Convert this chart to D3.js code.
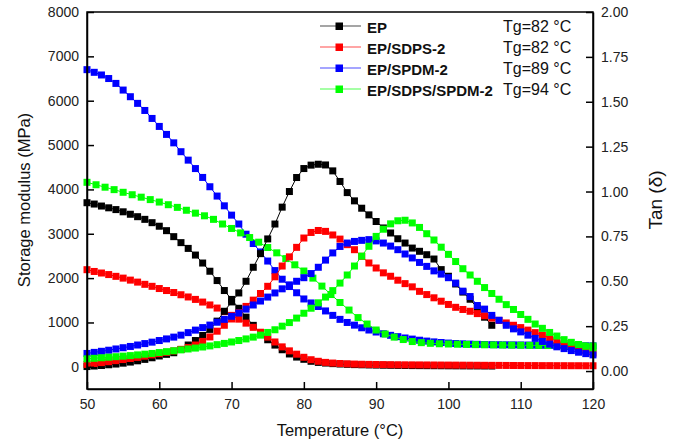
<!DOCTYPE html>
<html>
<head>
	<style>
	body {
		margin: 0;
		background: #fff;
	}
	text {
		font-family: Arial, "Liberation Sans", sans-serif;
	}
	</style>
</head>
<body>
	<script src="https://d3js.org/d3.v7.min.js"></script>
	<script>
	// measurement grid (deg C)
	var temps = [50,51,52,53,54,55,56,57,58,59,60,61,62,63,64,65,66,67,68,69,70,71,72,73,74,75,76,77,78,79,80,81,82,83,84,85,86,87,88,89,90,91,92,93,94,95,96,97,98,99,100,101,102,103,104,105,106,107,108,109,110,111,112,113,114,115,116,117,118,119,120];
	var mixStorageTemps = [50,51.25,52.5,53.75,55,56.25,57.5,58.75,60,61.25,62.5,63.75,65,66.25,67.5,68.75,70,71.25,72.5,73.75,75,76.25,77.5,78.75,80,81.25,82.5,83.75,85,86.25,87.5,88.75,90,91.25,92.5,93.75,95,96.25,97.5,98.75,100,101.25,102.5,103.75,105,106.25,107.5,108.75,110,111.25,112.5,113.75,115,116.25,117.5,118.75,120];

	// storage modulus (MPa), left axis
	var epStorage = [3700,3670,3625,3585,3545,3495,3440,3385,3325,3250,3170,3070,2935,2800,2670,2520,2340,2155,1945,1720,1520,1320,1120,935,760,610,490,385,290,220,170,125,100,85,72,63,56,50,46,42,39,36,34,32,30,28,27,26,25,24,23,22,21,20,20,19,18];
	var sdpsStorage = [2190,2150,2115,2080,2040,2000,1955,1910,1860,1815,1765,1720,1675,1625,1575,1520,1460,1395,1325,1245,1160,1075,985,890,780,670,560,450,360,285,215,160,125,100,85,75,68,62,58,55,52,50,48,46,45,44,43,42,41,40,39,38,37,36,35,34,33,32,31,30,29,28,28,27,27,26,26,25,25,24,24];
	var spdmStorage = [6700,6640,6580,6500,6390,6240,6090,5940,5780,5600,5420,5240,5050,4850,4660,4470,4270,4060,3850,3630,3420,3220,2990,2780,2590,2385,2170,1975,1810,1670,1530,1440,1360,1260,1160,1070,1000,940,880,830,785,745,710,680,650,625,600,580,562,548,535,525,518,512,507,503,500,498,496,494,492,490,488,486,484,482,480,478,476,474,472];
	var mixStorage = [4160,4105,4050,3995,3935,3880,3825,3770,3715,3655,3595,3530,3465,3405,3325,3220,3120,3020,2915,2810,2690,2570,2440,2300,2160,2000,1820,1630,1450,1280,1110,965,830,740,670,615,570,545,530,520,515,510,505,500,497,494,491,488,486,484,482,480,478,476,474,472,470];

	// tan delta, right axis
	var epTan = [0.025,0.028,0.031,0.035,0.039,0.044,0.05,0.057,0.065,0.074,0.084,0.093,0.102,0.12,0.145,0.17,0.198,0.232,0.278,0.333,0.385,0.435,0.5,0.578,0.654,0.736,0.819,0.913,1.0,1.078,1.128,1.147,1.152,1.148,1.115,1.056,0.994,0.948,0.907,0.87,0.833,0.797,0.769,0.737,0.713,0.685,0.667,0.648,0.624,0.565,0.528,0.485,0.44,0.4,0.35,0.3,0.255];
	var sdpsTan = [0.037,0.042,0.047,0.052,0.058,0.064,0.07,0.076,0.083,0.09,0.097,0.104,0.112,0.121,0.131,0.145,0.165,0.19,0.222,0.255,0.29,0.325,0.36,0.395,0.432,0.472,0.525,0.585,0.636,0.689,0.741,0.772,0.783,0.778,0.758,0.735,0.704,0.676,0.639,0.602,0.574,0.547,0.528,0.506,0.487,0.469,0.444,0.426,0.408,0.389,0.371,0.355,0.343,0.333,0.32,0.308,0.295,0.282,0.268,0.255,0.242,0.228,0.214,0.2,0.186,0.17,0.153,0.138,0.124,0.112,0.1];
	var spdmTan = [0.098,0.104,0.11,0.116,0.123,0.13,0.137,0.145,0.153,0.161,0.17,0.179,0.189,0.2,0.214,0.228,0.242,0.256,0.272,0.288,0.305,0.323,0.345,0.368,0.39,0.412,0.435,0.458,0.48,0.5,0.52,0.543,0.578,0.618,0.658,0.694,0.713,0.722,0.728,0.732,0.725,0.713,0.696,0.676,0.652,0.63,0.605,0.583,0.558,0.54,0.52,0.49,0.445,0.415,0.365,0.345,0.31,0.283,0.255,0.235,0.218,0.2,0.182,0.165,0.15,0.135,0.125,0.114,0.105,0.097,0.09];
	var mixTan = [0.068,0.071,0.074,0.077,0.08,0.083,0.086,0.09,0.094,0.098,0.103,0.108,0.113,0.118,0.123,0.128,0.134,0.14,0.147,0.154,0.162,0.17,0.179,0.189,0.2,0.215,0.23,0.25,0.27,0.295,0.322,0.35,0.38,0.412,0.448,0.49,0.535,0.585,0.64,0.695,0.75,0.79,0.82,0.837,0.84,0.825,0.8,0.765,0.73,0.69,0.65,0.61,0.57,0.535,0.5,0.465,0.432,0.4,0.37,0.343,0.315,0.288,0.262,0.238,0.215,0.195,0.175,0.16,0.148,0.138,0.13];

	var names = ["EP", "EP/SDPS-2", "EP/SPDM-2", "EP/SDPS/SPDM-2"];
	var tgLabels = ["Tg=82 \u00b0C", "Tg=82 \u00b0C", "Tg=89 \u00b0C", "Tg=94 \u00b0C"];
	var colors = ["#000000", "#ff0000", "#0000ff", "#00ff00"];

	var xTicks = [50, 60, 70, 80, 90, 100, 110, 120];
	var leftTicks = [0, 1000, 2000, 3000, 4000, 5000, 6000, 7000, 8000];
	var rightTicks = [0, 0.25, 0.5, 0.75, 1.0, 1.25, 1.5, 1.75, 2.0];

	var width = 675, height = 443;
	var margin = {top: 12, right: 82, bottom: 54, left: 87};

	var svg = d3.select("body").append("svg")
		.attr("width", width)
		.attr("height", height);

	var x = d3.scaleLinear()
		.domain([50, 120])
		.range([margin.left, width - margin.right]);

	var yL = d3.scaleLinear()
		.domain([-500, 8000])
		.range([height - margin.bottom, margin.top]);

	var yR = d3.scaleLinear()
		.domain([-0.1, 2.0])
		.range([height - margin.bottom, margin.top]);

	// series: storage first, then tan delta
	var series = [
		{vals: epStorage, t: temps, y: yL, c: 0},
		{vals: sdpsStorage, t: temps, y: yL, c: 1},
		{vals: spdmStorage, t: temps, y: yL, c: 2},
		{vals: mixStorage, t: mixStorageTemps, y: yL, c: 3},
		{vals: epTan, t: temps, y: yR, c: 0},
		{vals: sdpsTan, t: temps, y: yR, c: 1},
		{vals: spdmTan, t: temps, y: yR, c: 2},
		{vals: mixTan, t: temps, y: yR, c: 3}
	];

	var ms = 7;

	series.forEach(function(s){
		var pts = s.vals.map(function(v, i){ return [s.t[i], v]; });
		var line = d3.line()
			.x(function(d){ return x(d[0]); })
			.y(function(d){ return s.y(d[1]); });

		svg.append("path")
			.datum(pts)
			.attr("d", line)
			.attr("fill", "none")
			.attr("stroke", colors[s.c])
			.attr("stroke-width", 1);

		svg.append("g").selectAll("rect")
			.data(pts)
			.enter().append("rect")
				.attr("x", function(d){ return x(d[0]) - ms / 2; })
				.attr("y", function(d){ return s.y(d[1]) - ms / 2; })
				.attr("width", ms)
				.attr("height", ms)
				.attr("fill", colors[s.c]);
	});

	// axes, ticks inward
	var bottom = height - margin.bottom;
	svg.append("g")
		.attr("transform", "translate(0," + bottom + ")")
		.call(d3.axisBottom(x).tickValues(xTicks).tickSizeInner(-7).tickSizeOuter(0).tickPadding(10));

	svg.append("g")
		.attr("transform", "translate(" + margin.left + ",0)")
		.call(d3.axisLeft(yL).tickValues(leftTicks).tickFormat(d3.format("d")).tickSizeInner(-7).tickSizeOuter(0).tickPadding(8));

	svg.append("g")
		.attr("transform", "translate(" + (width - margin.right) + ",0)")
		.call(d3.axisRight(yR).tickValues(rightTicks).tickFormat(d3.format(".2f")).tickSizeInner(-7).tickSizeOuter(0).tickPadding(8));

	svg.selectAll(".tick text")
		.attr("font-size", 14)
		.attr("fill", "#222");
	svg.selectAll(".tick line, .domain")
		.attr("stroke", "#000")
		.attr("stroke-width", 1.5);

	// frame
	svg.append("rect")
		.attr("x", margin.left)
		.attr("y", margin.top)
		.attr("width", width - margin.left - margin.right)
		.attr("height", height - margin.top - margin.bottom)
		.attr("fill", "none")
		.attr("stroke", "#000")
		.attr("stroke-width", 1.5);

	// axis titles
	svg.append("text")
		.attr("x", (margin.left + width - margin.right) / 2)
		.attr("y", 436)
		.attr("text-anchor", "middle")
		.attr("font-size", 16.5)
		.attr("fill", "#111")
		.text("Temperature (\u00b0C)");

	svg.append("text")
		.attr("transform", "translate(30,200) rotate(-90)")
		.attr("text-anchor", "middle")
		.attr("font-size", 16.5)
		.attr("fill", "#111")
		.text("Storage modulus (MPa)");

	svg.append("text")
		.attr("transform", "translate(662,200) rotate(-90)")
		.attr("text-anchor", "middle")
		.attr("font-size", 19)
		.attr("fill", "#111")
		.text("Tan (\u03b4)");

	// legend
	var legend = svg.append("g");
	names.forEach(function(n, i){
		var ly = 26 + i * 21;
		legend.append("line")
			.attr("x1", 320).attr("x2", 361)
			.attr("y1", ly).attr("y2", ly)
			.attr("stroke", colors[i])
			.attr("stroke-opacity", 0.7)
			.attr("stroke-width", 1.2);
		legend.append("rect")
			.attr("x", 339 - ms / 2)
			.attr("y", ly - ms / 2)
			.attr("width", ms + 0.5)
			.attr("height", ms + 0.5)
			.attr("fill", colors[i]);
		legend.append("text")
			.attr("x", 367)
			.attr("y", ly + 7)
			.attr("font-size", 15)
			.attr("font-weight", "bold")
			.attr("fill", "#111")
			.text(n);
		legend.append("text")
			.attr("x", 503)
			.attr("y", ly + 6)
			.attr("font-size", 16)
			.attr("fill", "#111")
			.text(tgLabels[i]);
	});
	</script>
</body>
</html>
